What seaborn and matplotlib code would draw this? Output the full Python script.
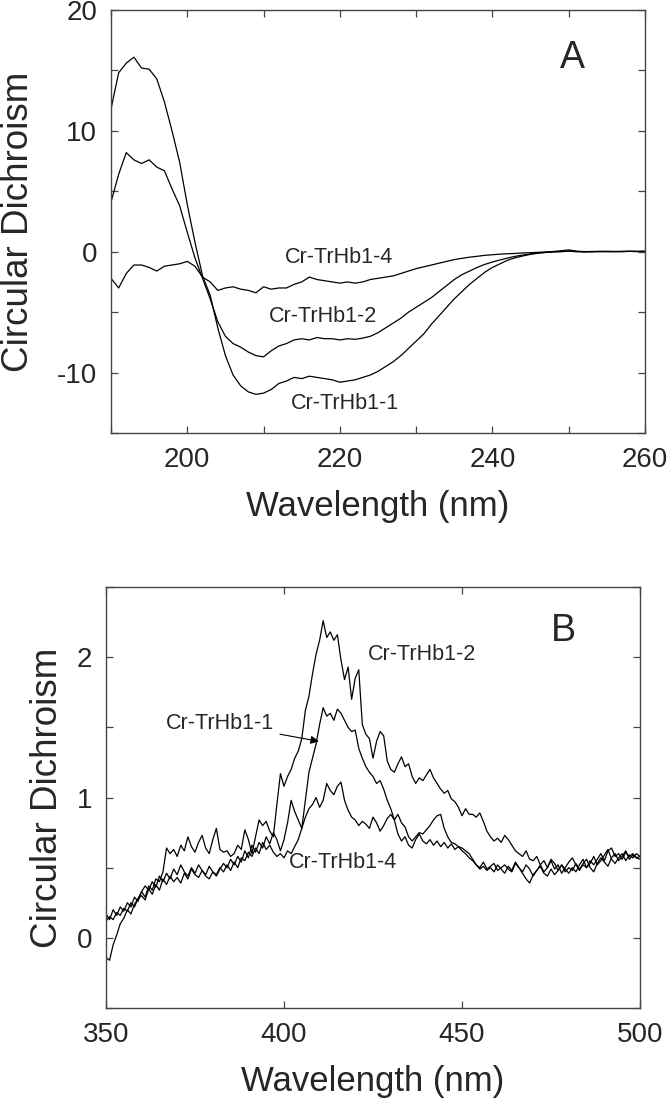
import numpy as np
import pandas as pd
import matplotlib
matplotlib.use("Agg")
import matplotlib.pyplot as plt
import seaborn as sns
from matplotlib.ticker import MultipleLocator, FuncFormatter

# ---------------- Panel A data (far-UV CD, 190-260 nm, 1 nm steps) ----------------
wl_a = list(range(190, 261))
cd_a_hb1_1 = [11.8, 14.8, 15.6, 16.1, 15.2, 15.1, 14.3, 12.4, 10.0, 7.4,
              3.9, 0.8, -2.0, -3.6, -6.3, -8.6, -10.2, -11.1, -11.6, -11.8,
              -11.7, -11.4, -10.9, -10.7, -10.4, -10.5, -10.3, -10.4, -10.5, -10.6,
              -10.8, -10.7, -10.6, -10.4, -10.2, -9.9, -9.5, -9.1, -8.6, -8.0,
              -7.4, -6.8, -6.0, -5.3, -4.6, -3.9, -3.3, -2.7, -2.2, -1.7,
              -1.3, -1.0, -0.7, -0.5, -0.35, -0.22, -0.12, -0.06, -0.02, 0.0,
              0.05, 0.02, -0.02, 0.01, 0.03, 0.0, 0.02, 0.01, 0.03, 0.02, 0.03]
cd_a_hb1_2 = [4.1, 6.4, 8.2, 7.6, 7.3, 7.6, 7.0, 6.7, 5.2, 3.8,
              1.6, -0.5, -2.2, -3.9, -5.8, -7.0, -7.6, -7.9, -8.3, -8.6,
              -8.7, -8.2, -7.8, -7.6, -7.3, -7.2, -7.3, -7.1, -7.2, -7.2,
              -7.3, -7.2, -7.25, -7.15, -7.0, -6.7, -6.3, -5.9, -5.5, -5.0,
              -4.6, -4.2, -3.8, -3.3, -2.8, -2.3, -1.9, -1.6, -1.3, -1.05,
              -0.85, -0.68, -0.52, -0.38, -0.27, -0.18, -0.1, -0.05, 0.0, 0.02,
              0.04, 0.0, 0.02, -0.01, 0.02, 0.03, 0.01, 0.02, 0.03, 0.02, 0.03]
cd_a_hb1_4 = [-2.2, -3.0, -1.8, -1.1, -1.1, -1.3, -1.6, -1.2, -1.1, -1.0,
              -0.8, -1.2, -2.1, -2.5, -3.2, -3.0, -2.9, -3.1, -3.2, -3.4,
              -2.9, -3.1, -3.0, -3.0, -2.7, -2.5, -2.1, -2.3, -2.4, -2.5,
              -2.6, -2.5, -2.6, -2.5, -2.3, -2.2, -2.1, -2.0, -1.8, -1.6,
              -1.4, -1.25, -1.1, -0.95, -0.8, -0.65, -0.55, -0.45, -0.38, -0.3,
              -0.25, -0.2, -0.17, -0.14, -0.1, -0.08, -0.05, -0.02, 0.02, 0.08,
              0.15, 0.05, 0.0, 0.02, 0.0, 0.02, 0.01, 0.02, 0.03, 0.02, 0.03]

# ---------------- Panel B data (Soret CD, 350-500 nm, 1 nm steps) ----------------
wl_b = list(range(350, 501))
cd_b_hb1_2 = [-0.14, -0.16, -0.05, 0.02, 0.10, 0.14, 0.20, 0.17, 0.24, 0.28,
              0.33, 0.29, 0.37, 0.34, 0.42, 0.40, 0.47, 0.64, 0.60, 0.63,
              0.58, 0.66, 0.62, 0.72, 0.65, 0.61, 0.68, 0.73, 0.64, 0.60,
              0.70, 0.78, 0.63, 0.61, 0.62, 0.58, 0.60, 0.66, 0.63, 0.77,
              0.70, 0.60, 0.72, 0.84, 0.80, 0.83, 0.76, 0.72, 0.95, 1.17,
              1.08, 1.15, 1.20, 1.28, 1.33, 1.42, 1.62, 1.72, 1.88, 2.02,
              2.12, 2.26, 2.14, 2.18, 2.12, 2.16, 1.98, 1.84, 1.93, 1.70,
              1.85, 1.91, 1.52, 1.45, 1.42, 1.28, 1.40, 1.47, 1.44, 1.26,
              1.20, 1.18, 1.24, 1.29, 1.22, 1.24, 1.15, 1.10, 1.14, 1.12,
              1.16, 1.20, 1.14, 1.10, 1.06, 1.03, 1.05, 0.99, 0.97, 0.93,
              0.87, 0.92, 0.88, 0.88, 0.86, 0.89, 0.83, 0.76, 0.72, 0.69,
              0.71, 0.68, 0.73, 0.70, 0.66, 0.62, 0.60, 0.58, 0.62, 0.56,
              0.55, 0.58, 0.52, 0.55, 0.50, 0.56, 0.53, 0.48, 0.52, 0.47,
              0.50, 0.48, 0.53, 0.49, 0.52, 0.50, 0.55, 0.52, 0.56, 0.60,
              0.55, 0.62, 0.64, 0.58, 0.60, 0.56, 0.61, 0.58, 0.60, 0.57,
              0.58]
cd_b_hb1_1 = [0.12, 0.15, 0.13, 0.18, 0.16, 0.21, 0.19, 0.25, 0.22, 0.28,
              0.30, 0.27, 0.35, 0.31, 0.38, 0.34, 0.42, 0.38, 0.44, 0.40,
              0.43, 0.39, 0.46, 0.42, 0.49, 0.45, 0.43, 0.48, 0.44, 0.42,
              0.47, 0.45, 0.50, 0.47, 0.52, 0.48, 0.54, 0.50, 0.57, 0.55,
              0.61, 0.58, 0.64, 0.60, 0.68, 0.63, 0.66, 0.61, 0.58, 0.60,
              0.57, 0.62, 0.60, 0.65, 0.70, 0.78, 0.98, 1.18, 1.28, 1.38,
              1.52, 1.64, 1.58, 1.60, 1.55, 1.63, 1.60, 1.55, 1.50, 1.47,
              1.48, 1.35, 1.28, 1.22, 1.18, 1.15, 1.10, 1.12, 1.06, 0.98,
              0.92, 0.84, 0.88, 0.82, 0.79, 0.72, 0.69, 0.72, 0.75, 0.74,
              0.77, 0.80, 0.84, 0.87, 0.88, 0.78, 0.72, 0.68, 0.67, 0.65,
              0.64, 0.62, 0.60, 0.56, 0.52, 0.50, 0.54, 0.49, 0.51, 0.53,
              0.48, 0.50, 0.52, 0.49, 0.47, 0.53, 0.50, 0.46, 0.42, 0.39,
              0.45, 0.48, 0.52, 0.47, 0.50, 0.55, 0.49, 0.52, 0.46, 0.50,
              0.54, 0.57, 0.52, 0.48, 0.53, 0.56, 0.50, 0.47, 0.53, 0.57,
              0.54, 0.51, 0.57, 0.60, 0.55, 0.58, 0.62, 0.56, 0.59, 0.57,
              0.56]
cd_b_hb1_4 = [0.17, 0.13, 0.20, 0.16, 0.22, 0.19, 0.25, 0.22, 0.29, 0.26,
              0.33, 0.37, 0.34, 0.40, 0.36, 0.44, 0.40, 0.46, 0.42, 0.49,
              0.45, 0.52, 0.47, 0.44, 0.50, 0.46, 0.52, 0.48, 0.45, 0.51,
              0.47, 0.44, 0.49, 0.53, 0.50, 0.56, 0.52, 0.58, 0.54, 0.62,
              0.57, 0.66, 0.61, 0.68, 0.64, 0.72, 0.67, 0.75, 0.70, 0.62,
              0.70, 0.82, 0.98, 0.90, 0.84, 0.78, 0.86, 0.92, 0.95, 1.00,
              0.93, 0.98, 1.10, 1.05, 1.02, 1.08, 1.11, 0.98, 0.91, 0.86,
              0.84, 0.80, 0.83, 0.81, 0.78, 0.86, 0.82, 0.76, 0.80, 0.85,
              0.88, 0.84, 0.74, 0.69, 0.72, 0.66, 0.64, 0.70, 0.74, 0.69,
              0.67, 0.70, 0.66, 0.69, 0.65, 0.68, 0.64, 0.67, 0.63, 0.65,
              0.62, 0.60, 0.57, 0.55, 0.52, 0.49, 0.51, 0.48, 0.50, 0.47,
              0.52, 0.49, 0.46, 0.51, 0.48, 0.54, 0.50, 0.47, 0.52, 0.49,
              0.44, 0.48, 0.51, 0.46, 0.44, 0.49, 0.45, 0.48, 0.52, 0.49,
              0.46, 0.50, 0.47, 0.52, 0.56, 0.50, 0.53, 0.58, 0.52, 0.55,
              0.59, 0.63, 0.56, 0.53, 0.57, 0.60, 0.55, 0.59, 0.57, 0.60,
              0.58]

labels = ["Cr-TrHb1-1", "Cr-TrHb1-2", "Cr-TrHb1-4"]

df_a = pd.concat([
    pd.DataFrame({"wl": wl_a, "cd": v, "sample": n})
    for n, v in zip(labels, [cd_a_hb1_1, cd_a_hb1_2, cd_a_hb1_4])
])
df_b = pd.concat([
    pd.DataFrame({"wl": wl_b, "cd": v, "sample": n})
    for n, v in zip(labels, [cd_b_hb1_1, cd_b_hb1_2, cd_b_hb1_4])
])

sns.set_theme(style="ticks")
plt.rcParams["font.family"] = ["Liberation Sans", "DejaVu Sans"]

fig = plt.figure(figsize=(6.71, 11.03), dpi=100)
W, H = 671, 1103
ax_a = fig.add_axes([111 / W, 1 - 433 / H, 534 / W, 423 / H])
ax_b = fig.add_axes([106 / W, 1 - 1008 / H, 534 / W, 421 / H])

pal = {n: "black" for n in labels}
for ax, df in [(ax_a, df_a), (ax_b, df_b)]:
    sns.lineplot(data=df, x="wl", y="cd", hue="sample", palette=pal,
                 units="sample", estimator=None, linewidth=0.9,
                 legend=False, ax=ax)

frame_col = "#444444"
for ax in (ax_a, ax_b):
    for sp in ax.spines.values():
        sp.set_color(frame_col)
        sp.set_linewidth(1.0)
    ax.tick_params(direction="in", top=True, right=True, length=5,
                   width=0.9, color=frame_col, labelsize=20, pad=10)
    ax.set_ylabel("Circular Dichroism", fontsize=26.5)
    ax.set_xlabel("Wavelength (nm)", fontsize=25, labelpad=12)

# Panel A axes
ax_a.set_xlim(190, 260)
ax_a.set_ylim(-15, 20)
ax_a.xaxis.set_major_locator(MultipleLocator(10))
ax_a.xaxis.set_major_formatter(FuncFormatter(lambda v, p: f"{v:.0f}" if round(v) % 20 == 0 else ""))
ax_a.yaxis.set_major_locator(MultipleLocator(5))
ax_a.yaxis.set_major_formatter(FuncFormatter(lambda v, p: f"{v:.0f}" if round(v) % 10 == 0 else ""))
ax_a.yaxis.set_label_coords(-0.140, 0.5)

# Panel B axes
ax_b.set_xlim(350, 500)
ax_b.set_ylim(-0.5, 2.5)
ax_b.xaxis.set_major_locator(MultipleLocator(50))
ax_b.yaxis.set_major_locator(MultipleLocator(0.5))
ax_b.yaxis.set_major_formatter(FuncFormatter(lambda v, p: f"{v:.0f}" if abs(v - round(v)) < 1e-6 else ""))
ax_b.yaxis.set_label_coords(-0.076, 0.5)

# Annotations panel A
ann_fs = 15.5
ax_a.text(219.9, -0.5, "Cr-TrHb1-4", fontsize=ann_fs, ha="center", va="center")
ax_a.text(217.8, -5.4, "Cr-TrHb1-2", fontsize=ann_fs, ha="center", va="center")
ax_a.text(220.7, -12.6, "Cr-TrHb1-1", fontsize=ann_fs, ha="center", va="center")
ax_a.text(250.5, 16.0, "A", fontsize=27, ha="center", va="center")

# Annotations panel B
ax_b.text(438.8, 2.02, "Cr-TrHb1-2", fontsize=ann_fs, ha="center", va="center")
ax_b.annotate("Cr-TrHb1-1", xy=(409.8, 1.40), xytext=(382, 1.53),
              fontsize=ann_fs, ha="center", va="center",
              arrowprops=dict(arrowstyle="-|>", color="black", lw=0.8,
                              mutation_scale=12, shrinkA=2, shrinkB=0))
ax_b.text(416.6, 0.54, "Cr-TrHb1-4", fontsize=ann_fs, ha="center", va="center")
ax_b.text(478.6, 2.19, "B", fontsize=27, ha="center", va="center")

fig.savefig("out.png", dpi=100, facecolor="white")
